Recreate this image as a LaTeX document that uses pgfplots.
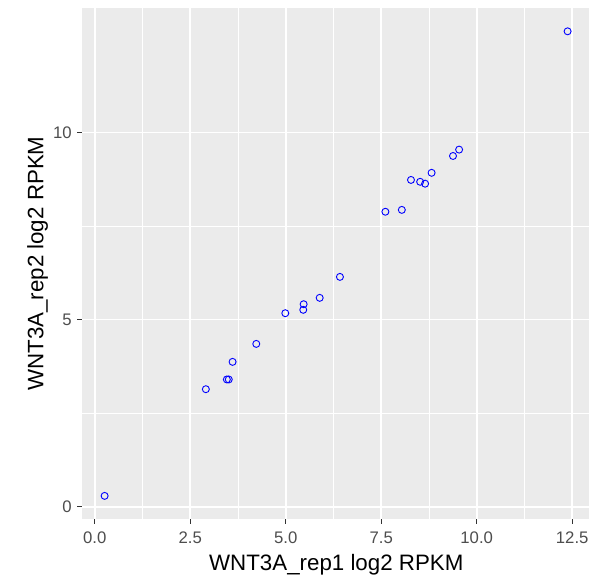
\documentclass[border=0pt]{standalone}
\usepackage{pgfplots}
\pgfplotsset{compat=1.18}
\usepackage{fontspec}
\setmainfont{Liberation Sans}
\definecolor{panel}{HTML}{EBEBEB}
\definecolor{ticklab}{HTML}{4D4D4D}
\definecolor{tickcol}{HTML}{333333}
\begin{document}
\begin{tikzpicture}
\path[use as bounding box] (0,0) rectangle (589bp,576bp);
\begin{axis}[
  at={(81.7bp,56.9bp)}, anchor=south west,
  scale only axis, width=509.2bp, height=511bp,
  xmin=-0.34, xmax=12.99, ymin=-0.33, ymax=13.32,
  axis background/.style={fill=panel},
  axis line style={draw=none},
  xtick={0,2.5,5,7.5,10,12.5},
  xticklabels={0.0,2.5,5.0,7.5,10.0,12.5},
  ytick={0,5,10},
  yticklabels={0,5,10},
  minor x tick num=1, minor y tick num=1,
  grid=both,
  major grid style={white, line width=1.7bp},
  minor grid style={white, line width=0.85bp},
  tick align=outside,
  xtick pos=left, ytick pos=left,
  major tick length=4.5bp, minor tick length=0pt,
  tick style={tickcol, line width=1bp},
  xticklabel style={font=\fontsize{16.8}{18}\selectfont, text=ticklab, inner sep=0pt, anchor=north, yshift=-8.2bp},
  yticklabel style={font=\fontsize{16.8}{18}\selectfont, text=ticklab, inner sep=0pt, anchor=east, xshift=-5.2bp},
  xlabel={WNT3A\_rep1 log2 RPKM},
  ylabel={WNT3A\_rep2 log2 RPKM},
  xlabel style={font=\fontsize{22.4}{24}\selectfont, inner sep=0pt, at={(axis description cs:0.5,-0.101)}, anchor=base},
  ylabel style={font=\fontsize{22.4}{24}\selectfont, inner sep=0pt, at={(axis description cs:-0.0754,0.5)}, anchor=base},
  clip=false,
]
\addplot[only marks, mark=o, mark size=3.5bp, mark options={draw=blue, line width=0.9bp}] coordinates {
(9.54,9.54) (9.38,9.37) (8.82,8.92) (8.28,8.73) (8.52,8.68) (8.65,8.63)
(8.04,7.93) (7.61,7.88) (6.42,6.14) (5.89,5.58) (5.47,5.41) (5.46,5.26)
(4.99,5.17) (4.23,4.35) (3.61,3.87) (3.51,3.40) (3.46,3.40) (2.91,3.14)
(12.38,12.70) (0.26,0.29)
};
\end{axis}
\end{tikzpicture}
\end{document}
